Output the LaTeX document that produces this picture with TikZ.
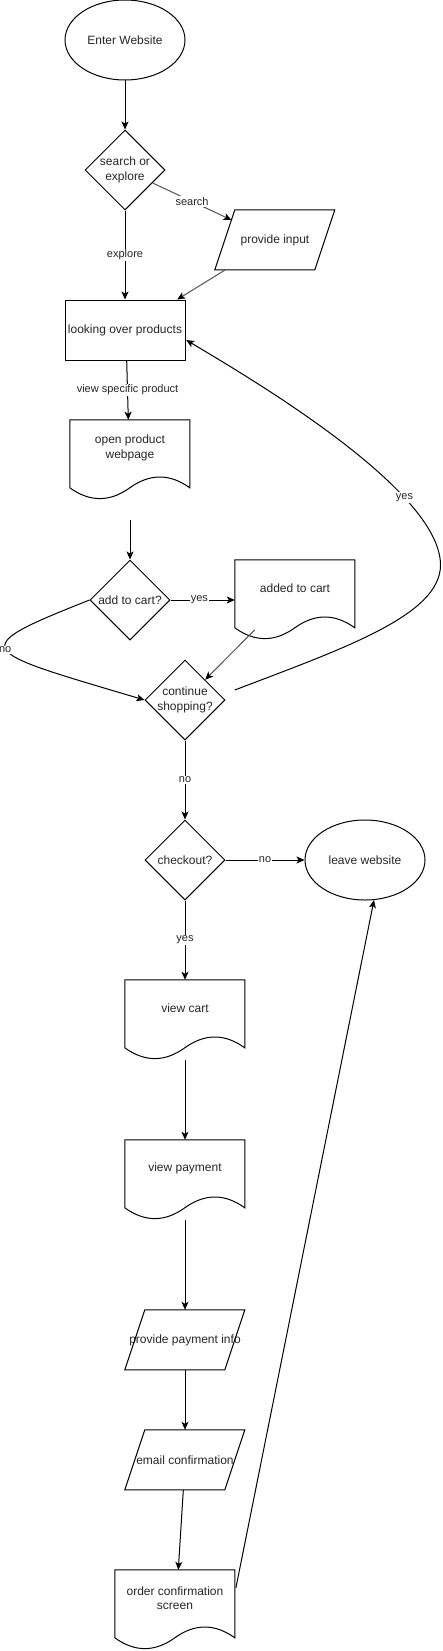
\documentclass[tikz,border=0pt]{standalone}
\usepackage{fontspec}
\setmainfont{Liberation Sans}
\usetikzlibrary{shapes.geometric,arrows.meta,calc}
\tikzset{
  nodefont/.style={font=\fontsize{12}{14.5}\selectfont, text=black!85, align=center},
  base/.style={nodefont, draw=black, line width=1pt, fill=white},
  ellipsebox/.style={base, ellipse, minimum width=120pt, minimum height=80pt, inner sep=0pt},
  decision/.style={base, diamond, minimum width=80pt, minimum height=80pt, inner sep=-3pt},
  procbox/.style={base, rectangle, minimum width=120pt, minimum height=60pt, inner sep=0pt},
  parabox/.style={nodefont, rectangle, draw=none, minimum width=120pt, minimum height=60pt, inner sep=0pt},
  docbox/.style={rectangle, draw=none, minimum width=120pt, minimum height=80pt, inner sep=0pt},
  doctext/.style={nodefont, inner sep=0pt, yshift=12pt},
  shapeline/.style={draw=black, line width=1pt, line join=miter},
  link/.style={draw=black, line width=1pt, -{Stealth[length=8pt,width=7pt,inset=2pt]}},
  graylink/.style={draw=black!68, line width=1pt, -{Stealth[length=8pt,width=7pt,inset=2pt,color=black]}},
  elabel/.style={fill=white, text=black!85, font=\fontsize{11}{13}\selectfont, inner sep=1pt},
}
\newcommand\drawdoc[1]{\begin{scope}[shift={(#1.north west)}]
  \draw[shapeline] (0,0) -- (120,0) -- (120,68) .. controls (100,53.6) and (80,53.6) .. (60,68)
    .. controls (40,82.4) and (20,82.4) .. (0,68) -- cycle;
\end{scope}}
\newcommand\drawpara[1]{\begin{scope}[shift={(#1.north west)}]
  \draw[shapeline] (20,0) -- (120,0) -- (100,60) -- (0,60) -- cycle;
\end{scope}}
\begin{document}
\begin{tikzpicture}[x=1pt,y=-1pt]
\useasboundingbox (0,0) rectangle (442,1651);
% nodes
\node[ellipsebox] (ew) at (125,40) {Enter Website};
\node[decision] (se) at (125,170) {search or\\explore};
\node[parabox] (pi) at (275,240) {provide input};
\node[procbox] (lo) at (125,330) {looking over products};
\node[docbox, label={[doctext, name=opwt]center:{open product\\webpage}}] (opw) at (130,460) {};
\node[decision] (ac) at (130,600) {add to cart?};
\node[docbox, label={[doctext, name=atct]center:{added to cart}}] (atc) at (295,600) {};
\node[decision] (cs) at (185,700) {continue\\shopping?};
\node[decision] (co) at (185,860) {checkout?};
\node[ellipsebox] (lw) at (365,860) {leave website};
\node[docbox, label={[doctext, name=vct]center:{view cart}}] (vc) at (185,1020) {};
\node[docbox, label={[doctext, name=vpt]center:{view payment}}] (vp) at (185,1180) {};
\node[parabox] (ppi) at (185,1340) {provide payment info};
\node[parabox] (ec) at (185,1460) {email confirmation};
\node[docbox, label={[doctext, name=ocst]center:{order confirmation\\screen}}] (ocs) at (175,1610) {};
% custom outlines
\drawpara{pi}
\drawpara{ppi}
\drawpara{ec}
\drawdoc{opw}
\drawdoc{atc}
\drawdoc{vc}
\drawdoc{vp}
\drawdoc{ocs}
% helper coordinates
\coordinate (pin) at ($(pi.west)+(16.7,-20)$);
\coordinate (opwout) at ($(opw.south)+(0,20)$);
\coordinate (atcout) at ($(atc.north west)+(20,70)$);
\coordinate (yesstart) at ($(cs.east)+(9.3,-10)$);
\coordinate (yesturn) at (440.5,565);
\coordinate (yesend) at ($(lo.east)+(0.7,10)$);
% connectors
\draw[link] (ew) -- (se);
\draw[link] (se) -- node[elabel]{explore} (lo);
\draw[graylink] (se) -- node[elabel]{search} (pin);
\draw[graylink] ($(pi.south west)+(10,0)$) -- ($(lo.north east)+(-8.3,0)$);
\draw[link] ($(lo.south)+(1.7,0)$) -- node[elabel]{view specific product} ($(opw.north)+(-1.7,0)$);
\draw[link] (opwout) -- (ac);
\draw[link] (ac.east) -- node[elabel,pos=0.45]{yes} (atc.west);
\draw[graylink] (atcout) -- (cs);
\draw[link] (ac.west) .. controls +(-126,50) and +(-168,-50) .. (cs.west) node[elabel,pos=0.5,xshift=-1.5pt]{no};
\draw[link] (yesstart) .. controls +(110,-42) and +(0,50) .. (yesturn)
   .. controls +(0,-76) and +(60,36) .. (yesend) node[elabel,pos=0.27]{yes};
\draw[link] (cs) -- node[elabel]{no} (co);
\draw[link] (co) -- node[elabel]{no} (lw);
\draw[link] (co) -- node[elabel]{yes} (vc.north);
\draw[link] (vc.south) -- (vp.north);
\draw[link] (vp.south) -- (ppi.north);
\draw[link] (ppi.south) -- (ec.north);
\draw[link] ($(ec.south)+(-1.7,0)$) -- ($(ocs.north)+(3.3,0)$);
\draw[link] ($(ocs.north east)+(0.7,18)$) -- ($(lw.south)+(9,-0.5)$);
\end{tikzpicture}
\end{document}
